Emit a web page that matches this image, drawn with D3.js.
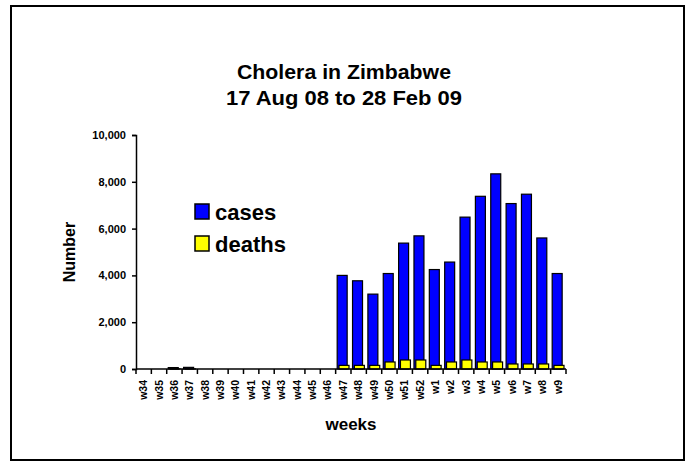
<!DOCTYPE html>
<html>
<head>
<meta charset="utf-8">
<script src="https://cdn.jsdelivr.net/npm/d3@7"></script>
<style>
  body { margin: 0; background: #fff; }
  text { font-family: "Liberation Sans", Arial, sans-serif; font-weight: bold; }
</style>
</head>
<body>
<div id="chart"></div>
<script>
const weeks = ['w34', 'w35', 'w36', 'w37', 'w38', 'w39', 'w40', 'w41', 'w42', 'w43', 'w44', 'w45', 'w46',
  'w47', 'w48', 'w49', 'w50', 'w51', 'w52', 'w1', 'w2', 'w3', 'w4', 'w5', 'w6', 'w7', 'w8', 'w9']
const cases = [0, 0, 60, 70, 0, 0, 0, 0, 0, 0, 0, 0, 0,
  4000, 3770, 3200, 4080, 5380, 5690, 4250, 4570, 6490, 7380, 8340, 7070, 7470, 5600, 4080]
const deaths = [0, 0, 5, 5, 0, 0, 0, 0, 0, 0, 0, 0, 0,
  155, 155, 155, 300, 385, 385, 155, 300, 385, 300, 300, 215, 215, 215, 155]
const yTicks = [0, 2000, 4000, 6000, 8000, 10000]

const width = 688
const height = 462
const margin = { top: 135, right: 122, bottom: 93, left: 136 }
const innerW = width - margin.left - margin.right
const innerH = height - margin.top - margin.bottom

const svg = d3.select('#chart').append('svg')
  .attr('width', width)
  .attr('height', height)

// outer frame
svg.append('rect')
  .attr('x', 11).attr('y', 6)
  .attr('width', 673).attr('height', 454)
  .attr('fill', 'none')
  .attr('stroke', '#000')
  .attr('stroke-width', 2)

// title is a bit stretched sideways in the original
svg.append('text')
  .attr('x', 344).attr('y', 79)
  .attr('text-anchor', 'middle')
  .attr('font-size', 20)
  .attr('textLength', 214)
  .attr('lengthAdjust', 'spacingAndGlyphs')
  .text('Cholera in Zimbabwe')

svg.append('text')
  .attr('x', 344).attr('y', 105)
  .attr('text-anchor', 'middle')
  .attr('font-size', 20)
  .attr('textLength', 236)
  .attr('lengthAdjust', 'spacingAndGlyphs')
  .text('17 Aug 08 to 28 Feb 09')

const g = svg.append('g')
  .attr('transform', 'translate(' + margin.left + ',' + margin.top + ')')

const x = d3.scaleBand().domain(weeks).range([0, innerW]).padding(0)
const y = d3.scaleLinear().domain([0, 10000]).range([innerH, 0])
const bw = x.bandwidth()

// cases
g.selectAll('.case')
  .data(weeks)
  .enter().append('rect')
  .attr('class', 'case')
  .attr('x', (d, i) => x(d) + bw * 0.1)
  .attr('width', bw * 0.65)
  .attr('y', (d, i) => y(cases[i]))
  .attr('height', (d, i) => innerH - y(cases[i]))
  .attr('fill', '#0000ff')
  .attr('stroke', '#000')
  .attr('stroke-width', 1.2)

// deaths
g.selectAll('.death')
  .data(weeks)
  .enter().append('rect')
  .attr('class', 'death')
  .attr('x', (d, i) => x(d) + bw * 0.22)
  .attr('width', bw * 0.65)
  .attr('y', (d, i) => y(deaths[i]))
  .attr('height', (d, i) => innerH - y(deaths[i]))
  .attr('fill', '#ffff00')
  .attr('stroke', '#000')
  .attr('stroke-width', 1.2)

// y axis
const yAxis = d3.axisLeft(y).tickValues(yTicks).tickSize(4).tickPadding(6)
  .tickFormat(d3.format(','))
const yG = g.append('g').call(yAxis)
yG.select('.domain').attr('stroke-width', 1.5)
yG.selectAll('line').attr('stroke-width', 1.5)
yG.selectAll('text').attr('font-size', 11).attr('fill', '#000')

// x axis with ticks at category boundaries
const xG = g.append('g').attr('transform', 'translate(0,' + innerH + ')')
xG.append('line')
  .attr('x1', 0).attr('x2', innerW)
  .attr('stroke', '#000').attr('stroke-width', 1.5)
xG.selectAll('.tick')
  .data(weeks.concat(['end']))
  .enter().append('line')
  .attr('x1', (d, i) => i * bw).attr('x2', (d, i) => i * bw)
  .attr('y1', 0).attr('y2', 5)
  .attr('stroke', '#000').attr('stroke-width', 1.5)
xG.selectAll('.lbl')
  .data(weeks)
  .enter().append('text')
  .attr('transform', d => 'translate(' + (x(d) + bw / 2 + 3.5) + ',11) rotate(-90)')
  .attr('text-anchor', 'end')
  .attr('font-size', 10.5)
  .text(d => d)

svg.append('text')
  .attr('transform', 'translate(75,252) rotate(-90)')
  .attr('text-anchor', 'middle')
  .attr('font-size', 16)
  .text('Number')

svg.append('text')
  .attr('x', 351).attr('y', 430)
  .attr('text-anchor', 'middle')
  .attr('font-size', 17)
  .text('weeks')

// legend
const legend = [['cases', '#0000ff'], ['deaths', '#ffff00']]
const lg = svg.append('g').attr('transform', 'translate(195,204)')
legend.forEach((l, i) => {
  lg.append('rect')
    .attr('x', 0).attr('y', i * 32)
    .attr('width', 14).attr('height', 15)
    .attr('fill', l[1])
    .attr('stroke', '#000')
    .attr('stroke-width', 1.5)
  lg.append('text')
    .attr('x', 20).attr('y', i * 32 + 16)
    .attr('font-size', 22)
    .text(l[0])
})
</script>
</body>
</html>
